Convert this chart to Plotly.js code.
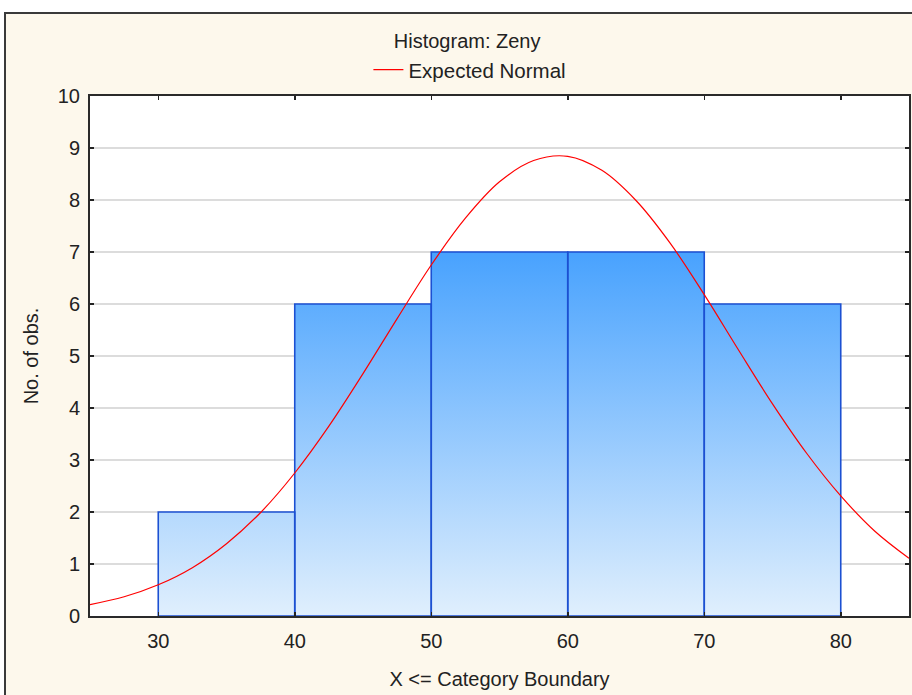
<!DOCTYPE html>
<html>
<head>
<meta charset="utf-8">
<script src="https://cdn.plot.ly/plotly-3.0.1.min.js"></script>
<style>
  html, body { margin: 0; padding: 0; background: #ffffff; overflow: hidden; width: 912px; height: 695px; }
  #wrap { position: absolute; left: 4px; top: 12px; border-left: 2px solid #3a3a3a; border-top: 2px solid #3a3a3a; width: 906px; height: 681px; background: #fdf8ec; }
  #chart { width: 906px; height: 681px; }
</style>
</head>
<body>
<div id="wrap"><div id="chart"></div></div>
<script>
// Histogram data: bin edges ("X <= Category Boundary") and observed counts
const binLower = [30, 40, 50, 60, 70];
const binUpper = [40, 50, 60, 70, 80];
const counts   = [2, 6, 7, 7, 6];

// Expected Normal curve
const normalX = [25, 27.5, 30, 32.5, 35, 37.5, 40, 42.5, 45, 47.5, 50, 52.5, 55,
                 57.5, 60, 62.5, 65, 67.5, 70, 72.5, 75, 77.5, 80, 82.5, 85];
const normalY = [0.22, 0.37, 0.60, 0.93, 1.39, 1.99, 2.75, 3.65, 4.66, 5.72, 6.75, 7.65, 8.35,
                 8.76, 8.84, 8.57, 7.99, 7.17, 6.18, 5.12, 4.08, 3.13, 2.31, 1.63, 1.11];

const xTicks = [30, 40, 50, 60, 70, 80];
const yTicks = [0, 1, 2, 3, 4, 5, 6, 7, 8, 9, 10];

// Build closed rectangles for each bin (separated by nulls)
const px = [], py = [];
for (let i = 0; i < counts.length; i++) {
  px.push(binLower[i], binLower[i], binUpper[i], binUpper[i], binLower[i], null);
  py.push(0, counts[i], counts[i], 0, 0, null);
}
const maxCount = Math.max(...counts);

const font = 'Liberation Sans, Arial, sans-serif';
const txt = '#222222';

const traces = [
  {
    type: 'scatter', mode: 'lines', x: px, y: py,
    fill: 'toself',
    fillgradient: { type: 'vertical', colorscale: [[0, '#e0effd'], [1, '#48a2fe']], start: 0, stop: maxCount },
    line: { color: '#1c50d2', width: 1.6 },
    connectgaps: false,
    showlegend: false, hoverinfo: 'skip', name: 'Zeny'
  },
  {
    type: 'scatter', mode: 'lines', x: normalX, y: normalY,
    line: { color: '#ff0000', width: 1.2, shape: 'spline' },
    name: 'Expected Normal'
  }
];

const layout = {
  width: 906, height: 681,
  paper_bgcolor: '#fdf8ec', plot_bgcolor: '#ffffff',
  margin: { l: 84, r: 3, t: 82, b: 79 },
  font: { family: font, size: 20, color: txt },
  title: { text: 'Histogram: Zeny', x: 0.509, xref: 'container', xanchor: 'center',
           y: 0.961, yref: 'container', yanchor: 'middle', font: { family: font, size: 20, color: txt } },
  showlegend: true,
  legend: { orientation: 'h', x: 0.4, xref: 'container', xanchor: 'left',
            y: 0.918, yref: 'container', yanchor: 'middle', bgcolor: 'rgba(0,0,0,0)',
            font: { family: font, size: 20.5, color: txt } },
  xaxis: {
    range: [25, 85], tickvals: xTicks, ticktext: xTicks.map(String),
    showgrid: false, zeroline: false,
    showline: true, linecolor: '#2a2a2a', linewidth: 2, mirror: 'ticks',
    ticks: 'inside', ticklen: 4, tickwidth: 1.5, tickcolor: '#222',
    ticklabelstandoff: 6,
    tickfont: { family: font, size: 20, color: txt },
    title: { text: 'X <= Category Boundary', standoff: 21, font: { family: font, size: 20, color: txt } }
  },
  yaxis: {
    range: [0, 10], tickvals: yTicks, ticktext: yTicks.map(String),
    showgrid: true, gridcolor: '#dcdcdc', gridwidth: 1.5, zeroline: false,
    showline: true, linecolor: '#2a2a2a', linewidth: 2, mirror: 'ticks',
    ticks: 'inside', ticklen: 4, tickwidth: 1.5, tickcolor: '#222',
    ticklabelstandoff: 4,
    tickfont: { family: font, size: 20, color: txt },
    title: { text: 'No. of obs.', standoff: 14, font: { family: font, size: 20, color: txt } }
  }
};

Plotly.newPlot('chart', traces, layout, { displayModeBar: false, staticPlot: true });
</script>
</body>
</html>
